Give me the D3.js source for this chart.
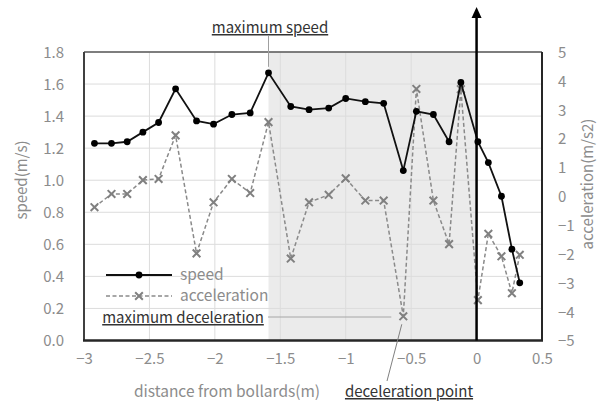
<!DOCTYPE html>
<html>
<head>
<meta charset="utf-8">
<script src="https://cdn.jsdelivr.net/npm/d3@7"></script>
<style>
  body { margin: 0; background: #fff; }
  svg { font-family: "Noto Sans CJK JP", "Noto Sans", sans-serif; }
  .tick text { fill: #8c8c8c; font-size: 15px; }
</style>
</head>
<body>
<div id="chart"></div>
<script>
const distance = [-2.92, -2.79, -2.67, -2.55, -2.43, -2.30, -2.14, -2.01, -1.87, -1.73, -1.59,
    -1.42, -1.28, -1.13, -1.00, -0.85, -0.71, -0.56, -0.46, -0.33, -0.21, -0.12,
    0.01, 0.09, 0.19, 0.27, 0.33];
const speed = [1.23, 1.23, 1.24, 1.30, 1.36, 1.57, 1.37, 1.35, 1.41, 1.42, 1.67,
    1.46, 1.44, 1.45, 1.51, 1.49, 1.48, 1.06, 1.43, 1.41, 1.24, 1.61,
    1.24, 1.11, 0.90, 0.57, 0.36];
const accel = [-0.38, 0.08, 0.08, 0.56, 0.60, 2.11, -1.98, -0.21, 0.60, 0.11, 2.57,
    -2.16, -0.21, 0.05, 0.62, -0.15, -0.15, -4.16, 3.72, -0.15, -1.66, 3.71,
    -3.60, -1.30, -2.08, -3.36, -2.03];
const xTicks = [-3, -2.5, -2, -1.5, -1, -0.5, 0, 0.5];
const speedTicks = [0, 0.2, 0.4, 0.6, 0.8, 1.0, 1.2, 1.4, 1.6, 1.8];
const accelTicks = [-5, -4, -3, -2, -1, 0, 1, 2, 3, 4, 5];
const shadeRange = [-1.59, 0];
const maxSpeedIdx = 10;
const maxDecelIdx = 17;

const width = 598, height = 404;
const margin = { top: 52, right: 56, bottom: 63.5, left: 84 };

const svg = d3.select("#chart").append("svg")
    .attr("width", width)
    .attr("height", height);

const x = d3.scaleLinear().domain([-3, 0.5]).range([margin.left, width - margin.right]);
const yS = d3.scaleLinear().domain([0, 1.8]).range([height - margin.bottom, margin.top]);
const yA = d3.scaleLinear().domain([-5, 5]).range([height - margin.bottom, margin.top]);

// shaded zone
svg.append("rect")
    .attr("x", x(shadeRange[0]))
    .attr("y", margin.top)
    .attr("width", x(shadeRange[1]) - x(shadeRange[0]))
    .attr("height", yS(0) - yS(1.8))
    .attr("fill", "#ebebeb");

// grid
svg.append("g")
    .selectAll("line.h")
    .data(speedTicks)
    .enter().append("line")
    .attr("x1", margin.left).attr("x2", width - margin.right)
    .attr("y1", d => yS(d)).attr("y2", d => yS(d))
    .attr("stroke", "#dcdcdc").attr("stroke-width", 1);
svg.append("g")
    .selectAll("line.v")
    .data(xTicks)
    .enter().append("line")
    .attr("x1", d => x(d)).attr("x2", d => x(d))
    .attr("y1", margin.top).attr("y2", height - margin.bottom)
    .attr("stroke", "#dcdcdc").attr("stroke-width", 1);

// axes (labels only)
const xAxis = svg.append("g")
    .attr("transform", `translate(0, ${height - margin.bottom})`)
    .call(d3.axisBottom(x).tickValues(xTicks).tickSize(0).tickPadding(16).tickFormat(d => d3.format("")(d)));
const yAxisL = svg.append("g")
    .attr("transform", `translate(${margin.left}, 0)`)
    .call(d3.axisLeft(yS).tickValues(speedTicks).tickSize(0).tickPadding(20).tickFormat(d3.format(".1f")));
const yAxisR = svg.append("g")
    .attr("transform", `translate(${width - margin.right}, 0)`)
    .call(d3.axisRight(yA).tickValues(accelTicks).tickSize(0).tickPadding(16));
[xAxis, yAxisL, yAxisR].forEach(a => {
    a.select(".domain").remove();
    a.attr("font-family", null).attr("font-size", null);
});
yAxisL.selectAll(".tick text").attr("dy", "0.36em");
yAxisR.selectAll(".tick text").attr("dy", "0.36em");
xAxis.selectAll(".tick text").attr("dy", "0.5em");

// plot border
svg.append("line")
    .attr("x1", margin.left).attr("x2", width - margin.right)
    .attr("y1", margin.top).attr("y2", margin.top)
    .attr("stroke", "#595959").attr("stroke-width", 1.5);
svg.append("line")
    .attr("x1", width - margin.right).attr("x2", width - margin.right)
    .attr("y1", margin.top).attr("y2", height - margin.bottom)
    .attr("stroke", "#262626").attr("stroke-width", 2);
svg.append("line")
    .attr("x1", margin.left).attr("x2", margin.left)
    .attr("y1", margin.top).attr("y2", height - margin.bottom)
    .attr("stroke", "#404040").attr("stroke-width", 2);
svg.append("line")
    .attr("x1", margin.left - 1).attr("x2", width - margin.right + 1)
    .attr("y1", height - margin.bottom).attr("y2", height - margin.bottom)
    .attr("stroke", "#262626").attr("stroke-width", 2.5);

// axis titles
svg.append("text")
    .attr("transform", `translate(22, 180) rotate(-90)`)
    .attr("text-anchor", "middle")
    .attr("dy", "0.35em")
    .attr("fill", "#8c8c8c")
    .attr("font-size", "15px")
    .text("speed(m/s)");
svg.append("text")
    .attr("transform", `translate(588, 184) rotate(-90)`)
    .attr("text-anchor", "middle")
    .attr("dy", "0.35em")
    .attr("fill", "#8c8c8c")
    .attr("font-size", "15px")
    .text("acceleration(m/s2)");
svg.append("text")
    .attr("x", 227)
    .attr("y", 392)
    .attr("text-anchor", "middle")
    .attr("dy", "0.35em")
    .attr("fill", "#8c8c8c")
    .attr("font-size", "15.5px")
    .text("distance from bollards(m)");

// series
const pts = distance.map((d, i) => ({ x: d, s: speed[i], a: accel[i] }));

svg.append("path")
    .datum(pts)
    .attr("fill", "none")
    .attr("stroke", "#8a8a8a")
    .attr("stroke-width", 1.5)
    .attr("stroke-dasharray", "4,2.5")
    .attr("d", d3.line().x(d => x(d.x)).y(d => yA(d.a)));

const cross = d3.symbol().type(d3.symbolX).size(40);
svg.selectAll("path.acc")
    .data(pts)
    .enter().append("path")
    .attr("class", "acc")
    .attr("transform", d => `translate(${x(d.x)}, ${yA(d.a)})`)
    .attr("d", cross)
    .attr("fill", "none")
    .attr("stroke", "#808080")
    .attr("stroke-width", 2);

svg.append("path")
    .datum(pts)
    .attr("fill", "none")
    .attr("stroke", "#111")
    .attr("stroke-width", 1.8)
    .attr("d", d3.line().x(d => x(d.x)).y(d => yS(d.s)));

svg.selectAll("circle.spd")
    .data(pts)
    .enter().append("circle")
    .attr("class", "spd")
    .attr("cx", d => x(d.x))
    .attr("cy", d => yS(d.s))
    .attr("r", 3.4)
    .attr("fill", "#000");

// arrow at x = 0
svg.append("line")
    .attr("x1", x(0)).attr("x2", x(0))
    .attr("y1", height - margin.bottom).attr("y2", 16)
    .attr("stroke", "#000").attr("stroke-width", 2.5);
svg.append("polygon")
    .attr("points", `${x(0)},7 ${x(0) - 5},18 ${x(0) + 5},18`)
    .attr("fill", "#000");

// legend
const legX = 106, legW = 66, legTextX = 180;
svg.append("line")
    .attr("x1", legX).attr("x2", legX + legW).attr("y1", 275).attr("y2", 275)
    .attr("stroke", "#111").attr("stroke-width", 1.8);
svg.append("circle").attr("cx", legX + legW / 2).attr("cy", 275).attr("r", 3.4).attr("fill", "#000");
svg.append("line")
    .attr("x1", legX).attr("x2", legX + legW).attr("y1", 296).attr("y2", 296)
    .attr("stroke", "#8a8a8a").attr("stroke-width", 1.5).attr("stroke-dasharray", "4,2.5");
svg.append("path")
    .attr("transform", `translate(${legX + legW / 2}, 296)`)
    .attr("d", cross).attr("fill", "none").attr("stroke", "#808080").attr("stroke-width", 2);
[["speed", 275], ["acceleration", 296]].forEach(([t, yy]) => {
    svg.append("text")
        .attr("x", legTextX).attr("y", yy).attr("dy", "0.35em")
        .attr("fill", "#8c8c8c").attr("font-size", "15.5px")
        .text(t);
});

// annotations
function note(text, tx, ty, anchor) {
    svg.append("text")
        .attr("x", tx).attr("y", ty)
        .attr("text-anchor", anchor)
        .attr("fill", "#333")
        .attr("font-size", "15px")
        .attr("text-decoration", "underline")
        .text(text);
}
const ms = pts[maxSpeedIdx], md = pts[maxDecelIdx];
svg.append("line")
    .attr("x1", x(ms.x)).attr("x2", x(ms.x))
    .attr("y1", 36).attr("y2", yS(ms.s) - 6)
    .attr("stroke", "#a0a0a0").attr("stroke-width", 1);
note("maximum speed", 270, 33, "middle");

svg.append("line")
    .attr("x1", 268).attr("x2", x(md.x) - 12)
    .attr("y1", 317).attr("y2", 317)
    .attr("stroke", "#a6a6a6").attr("stroke-width", 1);
note("maximum deceleration", 183, 323, "middle");

svg.append("line")
    .attr("x1", x(md.x) - 1.5).attr("x2", 387)
    .attr("y1", yA(md.a) + 8).attr("y2", 381)
    .attr("stroke", "#808080").attr("stroke-width", 1);
note("deceleration point", 409, 397, "middle");
</script>
</body>
</html>
